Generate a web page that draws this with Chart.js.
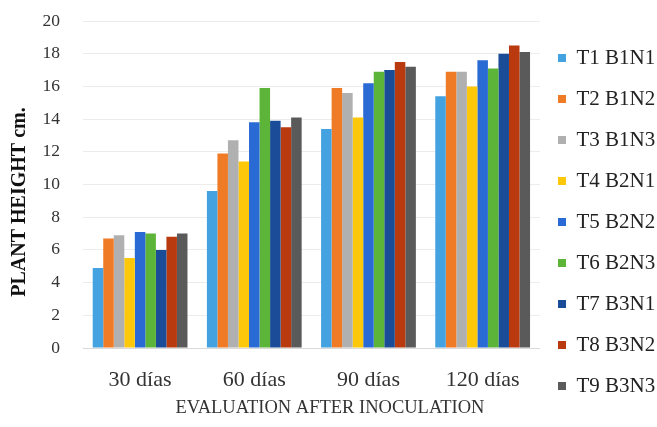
<!DOCTYPE html>
<html><head><meta charset="utf-8">
<script src="https://cdn.jsdelivr.net/npm/chart.js@4/dist/chart.umd.min.js"></script>
<style>html,body{margin:0;padding:0;background:#fff}#wrap{width:657px;height:427px}</style>
</head><body><div id="wrap"><canvas id="c" width="657" height="427"></canvas></div>
<script>
const categories = ["30 días", "60 días", "90 días", "120 días"];
const seriesNames = ["T1 B1N1","T2 B1N2","T3 B1N3","T4 B2N1","T5 B2N2","T6 B2N3","T7 B3N1","T8 B3N2","T9 B3N3"];
const T1 = [4.9, 9.6, 13.4, 15.4];
const T2 = [6.7, 11.9, 15.9, 16.9];
const T3 = [6.9, 12.7, 15.6, 16.9];
const T4 = [5.5, 11.4, 14.1, 16.0];
const T5 = [7.1, 13.8, 16.2, 17.6];
const T6 = [7.0, 15.9, 16.9, 17.1];
const T7 = [6.0, 13.9, 17.0, 18.0];
const T8 = [6.8, 13.5, 17.5, 18.5];
const T9 = [7.0, 14.1, 17.2, 18.1];
const seriesValues = [T1,T2,T3,T4,T5,T6,T7,T8,T9];
const colors = ["#45a2e0","#f07b26","#b0b0b0","#fec80a","#2a6ad4","#5cb538","#1a4c98","#b93a0e","#5a5a5a"];
const yTicks = [0,2,4,6,8,10,12,14,16,18,20];

const serif = "'Liberation Serif','Times New Roman',serif";
const legendShift = { id:'legendShift', afterLayout(chart){ if (chart.legend) { const w = chart.legend.width; chart.legend.left = 538; chart.legend.right = 538 + w; } } };
new Chart(document.getElementById('c'), {
  type: 'bar',
  data: {
    labels: categories,
    datasets: seriesNames.map((n,i)=>({label:n, data:seriesValues[i], backgroundColor:colors[i], borderWidth:0}))
  },
  plugins:[legendShift],
  options: {
    responsive:false, animation:false,
    layout:{padding:{top:0,left:0,right:-10,bottom:0}},
    datasets:{bar:{categoryPercentage:0.83, barPercentage:1.0}},
    plugins:{
      tooltip:{enabled:false},
      legend:{position:'right', align:'start',
        title:{display:true, text:' ', font:{size:10}, padding:7.75},
        labels:{font:{family:serif,size:21}, color:'#222', boxWidth:8, boxHeight:8, padding:20}}
    },
    scales:{
      x:{grid:{display:false, drawTicks:false}, border:{display:true,color:'#d9d9d9'},
         afterFit:(ax)=>{ ax.height = 79; ax.paddingLeft = 0; ax.paddingRight = 0; },
         ticks:{font:{family:serif,size:22}, color:'#333', padding:19},
         title:{display:true,text:'        EVALUATION AFTER INOCULATION', font:{family:serif,size:18.5}, color:'#333', padding:{top:0,bottom:8}}},
      y:{min:0,max:20, afterBuildTicks:(ax)=>{ax.ticks=yTicks.map(v=>({value:v}));},
         afterFit:(ax)=>{ ax.width = 83; ax.paddingTop = 21; ax.paddingBottom = 0; },
         grid:{color:'#ececec', drawTicks:false}, border:{display:false},
         ticks:{font:{family:serif,size:17.5}, color:'#333', padding:23},
         title:{display:true,text:'PLANT HEIGHT cm.       ', font:{family:serif,size:20,weight:'bold'}, color:'#111', padding:{top:8,bottom:0}}}
    }
  }
});
</script></body></html>
